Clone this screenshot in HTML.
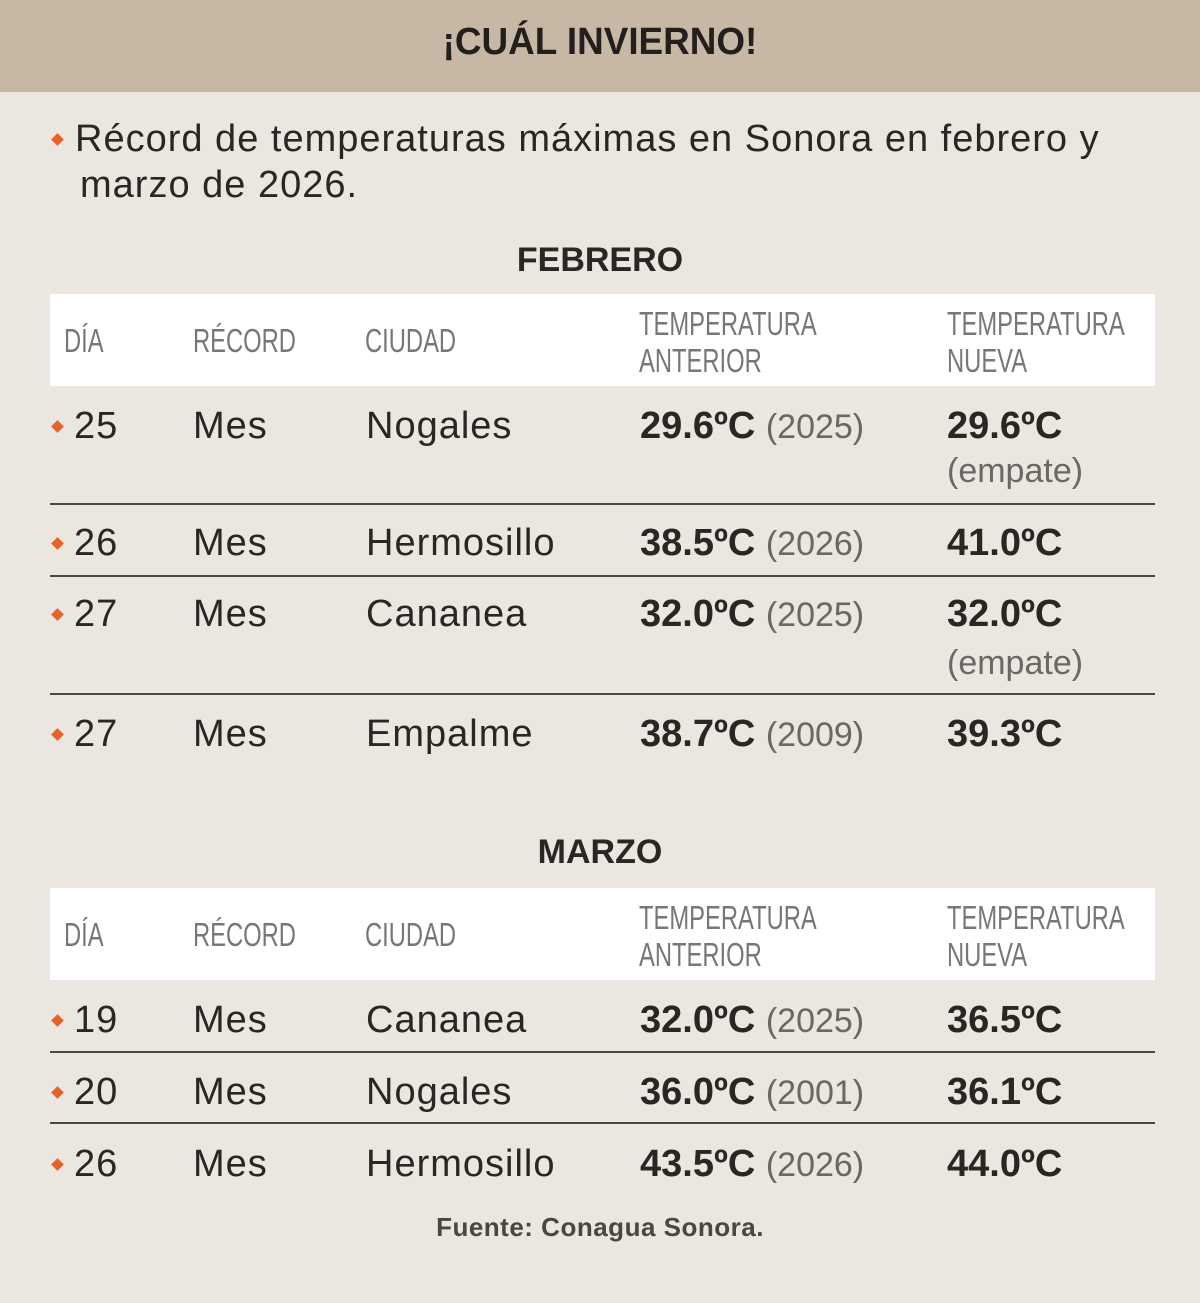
<!DOCTYPE html>
<html><head><meta charset="utf-8"><style>
body{margin:0;width:1200px;height:1303px;background:#ebe6df;position:relative;overflow:hidden;font-family:"Liberation Sans",sans-serif;color:#2a2624}
.a{position:absolute;white-space:nowrap}
.bar{position:absolute;left:0;top:0;width:1200px;height:92px;background:#c7b8a5}
.title{left:0;width:1200px;text-align:center;top:20px;font:bold 38px/44px "Liberation Sans",sans-serif;color:#231f1c;transform:scaleX(0.97)}
.hb{position:absolute;left:50px;width:1105px;height:92px;background:#fff}
.h{font:33px/37px "Liberation Sans",sans-serif;color:#7a7673;transform:scaleX(0.72);transform-origin:0 0}
.v{font:38px/44px "Liberation Sans",sans-serif;color:#2a2624;letter-spacing:1px}
.b{font-weight:bold;letter-spacing:0}
.y{font:34px/44px "Liberation Sans",sans-serif;color:#6b6764;letter-spacing:0}
.e{font:34px/40px "Liberation Sans",sans-serif;color:#6b6764}
.d{position:absolute;width:9px;height:9px;background:#e8612a;transform:rotate(45deg)}
.ln{position:absolute;left:50px;width:1105px;height:2px;background:#4a4644}
.sec{left:0;width:1200px;text-align:center;font:bold 34px/40px "Liberation Sans",sans-serif;color:#2a2624}
</style></head><body>
<div class="bar"></div>
<div class="a title">¡CUÁL INVIERNO!</div>
<div class="d" style="left:53px;top:135px"></div>
<div class="a v" style="left:75px;top:117px;letter-spacing:1px">Récord de temperaturas máximas en Sonora en febrero y</div>
<div class="a v" style="left:80px;top:163px;letter-spacing:1px">marzo de 2026.</div>

<div class="a sec" style="top:240px">FEBRERO</div>
<div class="hb" style="top:294px"></div>
<div class="a h" style="left:64px;top:322px">DÍA</div>
<div class="a h" style="left:193px;top:322px">RÉCORD</div>
<div class="a h" style="left:365px;top:322px">CIUDAD</div>
<div class="a h" style="left:639px;top:305px">TEMPERATURA<br>ANTERIOR</div>
<div class="a h" style="left:947px;top:305px">TEMPERATURA<br>NUEVA</div>

<div class="d" style="left:53px;top:422px"></div>
<div class="a v" style="left:74px;top:404px">25</div>
<div class="a v" style="left:193px;top:404px">Mes</div>
<div class="a v" style="left:366px;top:404px">Nogales</div>
<div class="a v b" style="left:640px;top:404px">29.6ºC <span class="y">(2025)</span></div>
<div class="a v b" style="left:947px;top:404px">29.6ºC</div>
<div class="a e" style="left:947px;top:451px">(empate)</div>
<div class="ln" style="top:503px"></div>

<div class="d" style="left:53px;top:539px"></div>
<div class="a v" style="left:74px;top:521px">26</div>
<div class="a v" style="left:193px;top:521px">Mes</div>
<div class="a v" style="left:366px;top:521px">Hermosillo</div>
<div class="a v b" style="left:640px;top:521px">38.5ºC <span class="y">(2026)</span></div>
<div class="a v b" style="left:947px;top:521px">41.0ºC</div>
<div class="ln" style="top:575px"></div>

<div class="d" style="left:53px;top:610px"></div>
<div class="a v" style="left:74px;top:592px">27</div>
<div class="a v" style="left:193px;top:592px">Mes</div>
<div class="a v" style="left:366px;top:592px">Cananea</div>
<div class="a v b" style="left:640px;top:592px">32.0ºC <span class="y">(2025)</span></div>
<div class="a v b" style="left:947px;top:592px">32.0ºC</div>
<div class="a e" style="left:947px;top:643px">(empate)</div>
<div class="ln" style="top:693px"></div>

<div class="d" style="left:53px;top:730px"></div>
<div class="a v" style="left:74px;top:712px">27</div>
<div class="a v" style="left:193px;top:712px">Mes</div>
<div class="a v" style="left:366px;top:712px">Empalme</div>
<div class="a v b" style="left:640px;top:712px">38.7ºC <span class="y">(2009)</span></div>
<div class="a v b" style="left:947px;top:712px">39.3ºC</div>

<div class="a sec" style="top:832px">MARZO</div>
<div class="hb" style="top:888px"></div>
<div class="a h" style="left:64px;top:916px">DÍA</div>
<div class="a h" style="left:193px;top:916px">RÉCORD</div>
<div class="a h" style="left:365px;top:916px">CIUDAD</div>
<div class="a h" style="left:639px;top:899px">TEMPERATURA<br>ANTERIOR</div>
<div class="a h" style="left:947px;top:899px">TEMPERATURA<br>NUEVA</div>

<div class="d" style="left:53px;top:1016px"></div>
<div class="a v" style="left:74px;top:998px">19</div>
<div class="a v" style="left:193px;top:998px">Mes</div>
<div class="a v" style="left:366px;top:998px">Cananea</div>
<div class="a v b" style="left:640px;top:998px">32.0ºC <span class="y">(2025)</span></div>
<div class="a v b" style="left:947px;top:998px">36.5ºC</div>
<div class="ln" style="top:1051px"></div>

<div class="d" style="left:53px;top:1088px"></div>
<div class="a v" style="left:74px;top:1070px">20</div>
<div class="a v" style="left:193px;top:1070px">Mes</div>
<div class="a v" style="left:366px;top:1070px">Nogales</div>
<div class="a v b" style="left:640px;top:1070px">36.0ºC <span class="y">(2001)</span></div>
<div class="a v b" style="left:947px;top:1070px">36.1ºC</div>
<div class="ln" style="top:1122px"></div>

<div class="d" style="left:53px;top:1160px"></div>
<div class="a v" style="left:74px;top:1142px">26</div>
<div class="a v" style="left:193px;top:1142px">Mes</div>
<div class="a v" style="left:366px;top:1142px">Hermosillo</div>
<div class="a v b" style="left:640px;top:1142px">43.5ºC <span class="y">(2026)</span></div>
<div class="a v b" style="left:947px;top:1142px">44.0ºC</div>

<div class="a" style="left:0;width:1200px;text-align:center;top:1212px;font:bold 26px/30px 'Liberation Sans',sans-serif;color:#4a4644;letter-spacing:0.5px">Fuente: Conagua Sonora.</div>
</body></html>
